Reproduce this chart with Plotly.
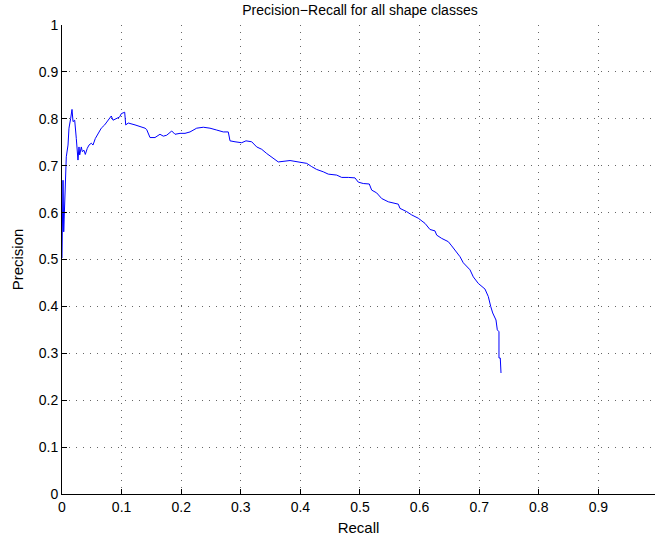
import plotly.graph_objects as go

recall = [0, 0.0005, 0.0017, 0.0029, 0.0045, 0.0072, 0.0101, 0.0117, 0.0146, 0.0168,
          0.0185, 0.0213, 0.024, 0.0268, 0.0285, 0.0297, 0.0324, 0.0341, 0.0369, 0.0391,
          0.0424, 0.0453, 0.0492, 0.052, 0.0559, 0.0604, 0.0659, 0.0716, 0.08, 0.0827,
          0.0856, 0.0911, 0.0968, 0.0995, 0.1052, 0.1069, 0.1112, 0.1225, 0.1337, 0.1393,
          0.1421, 0.1477, 0.156, 0.1644, 0.17, 0.1757, 0.1841, 0.1896, 0.198, 0.2064,
          0.2148, 0.226, 0.2371, 0.2483, 0.2596, 0.2706, 0.279, 0.2819, 0.2903, 0.3015,
          0.3087, 0.3183, 0.3267, 0.3351, 0.3435, 0.3545, 0.3629, 0.3826, 0.3938, 0.3993,
          0.4106, 0.419, 0.4273, 0.4384, 0.4468, 0.4609, 0.4693, 0.4804, 0.4916, 0.4971,
          0.5055, 0.5156, 0.5196, 0.528, 0.5364, 0.5475, 0.5559, 0.5643, 0.5671, 0.5784,
          0.5868, 0.5978, 0.6091, 0.6174, 0.6258, 0.6287, 0.6371, 0.6482, 0.6539, 0.6622,
          0.6678, 0.6733, 0.679, 0.6846, 0.6901, 0.6985, 0.7097, 0.7153, 0.7193, 0.7227,
          0.7282, 0.7304, 0.7332, 0.7332, 0.7354, 0.7366]
precision = [0.503, 0.58, 0.669, 0.559, 0.630, 0.719, 0.744, 0.780, 0.801, 0.820,
             0.794, 0.797, 0.758, 0.712, 0.740, 0.723, 0.740, 0.730, 0.733, 0.724,
             0.737, 0.744, 0.748, 0.744, 0.758, 0.769, 0.780, 0.787, 0.801, 0.806,
             0.797, 0.801, 0.804, 0.811, 0.814, 0.787, 0.791, 0.787, 0.783, 0.780,
             0.777, 0.760, 0.760, 0.767, 0.763, 0.765, 0.774, 0.767, 0.769, 0.769,
             0.772, 0.780, 0.782, 0.780, 0.776, 0.772, 0.772, 0.753, 0.751, 0.749,
             0.753, 0.751, 0.740, 0.735, 0.726, 0.716, 0.708, 0.711, 0.708, 0.708,
             0.705, 0.698, 0.692, 0.687, 0.682, 0.680, 0.675, 0.675, 0.674, 0.665,
             0.662, 0.661, 0.648, 0.642, 0.630, 0.623, 0.620, 0.618, 0.609, 0.602,
             0.595, 0.588, 0.577, 0.564, 0.561, 0.552, 0.545, 0.538, 0.529, 0.515,
             0.506, 0.493, 0.486, 0.478, 0.463, 0.449, 0.437, 0.421, 0.400, 0.386,
             0.371, 0.350, 0.346, 0.290, 0.290, 0.258]

x_ticks = [0, 0.1, 0.2, 0.3, 0.4, 0.5, 0.6, 0.7, 0.8, 0.9]
x_labels = ["0", "0.1", "0.2", "0.3", "0.4", "0.5", "0.6", "0.7", "0.8", "0.9"]
y_ticks = [0, 0.1, 0.2, 0.3, 0.4, 0.5, 0.6, 0.7, 0.8, 0.9, 1]
y_labels = ["0", "0.1", "0.2", "0.3", "0.4", "0.5", "0.6", "0.7", "0.8", "0.9", "1"]

font = "Liberation Sans, Arial, Helvetica, sans-serif"

fig = go.Figure()
fig.add_trace(go.Scatter(x=recall, y=precision, mode="lines",
                         line=dict(color="#0000ff", width=1), showlegend=False))

axis_common = dict(
    showgrid=True, gridcolor="#666666", griddash="1px,6px", gridwidth=1,
    showline=True, linecolor="black", linewidth=1, mirror=False,
    ticks="inside", ticklen=5, tickcolor="black", zeroline=False,
    automargin=False,
    tickfont=dict(family=font, size=14, color="black"),
)

fig.update_layout(
    width=655, height=543,
    margin=dict(l=62, r=0, t=25, b=49),
    paper_bgcolor="white", plot_bgcolor="white",
    title=dict(text="Precision\u2212Recall for all shape classes",
               font=dict(family=font, size=14, color="black"),
               x=0.5025, xref="paper", xanchor="center", y=1 - 10 / 543, yref="container",
               yanchor="middle", automargin=False),
    xaxis=dict(range=[0, 0.995], tickvals=x_ticks, ticktext=x_labels,
               title=dict(text="Recall", font=dict(family=font, size=15, color="black"), standoff=8),
               **axis_common),
    yaxis=dict(range=[0, 1], tickvals=y_ticks, ticktext=y_labels,
               title=dict(text="Precision", font=dict(family=font, size=15, color="black"), standoff=11),
               **axis_common),
)

fig.write_html("out.html", config={"displayModeBar": False},
               post_script="document.body.style.margin='0px';document.body.style.padding='0px';")
